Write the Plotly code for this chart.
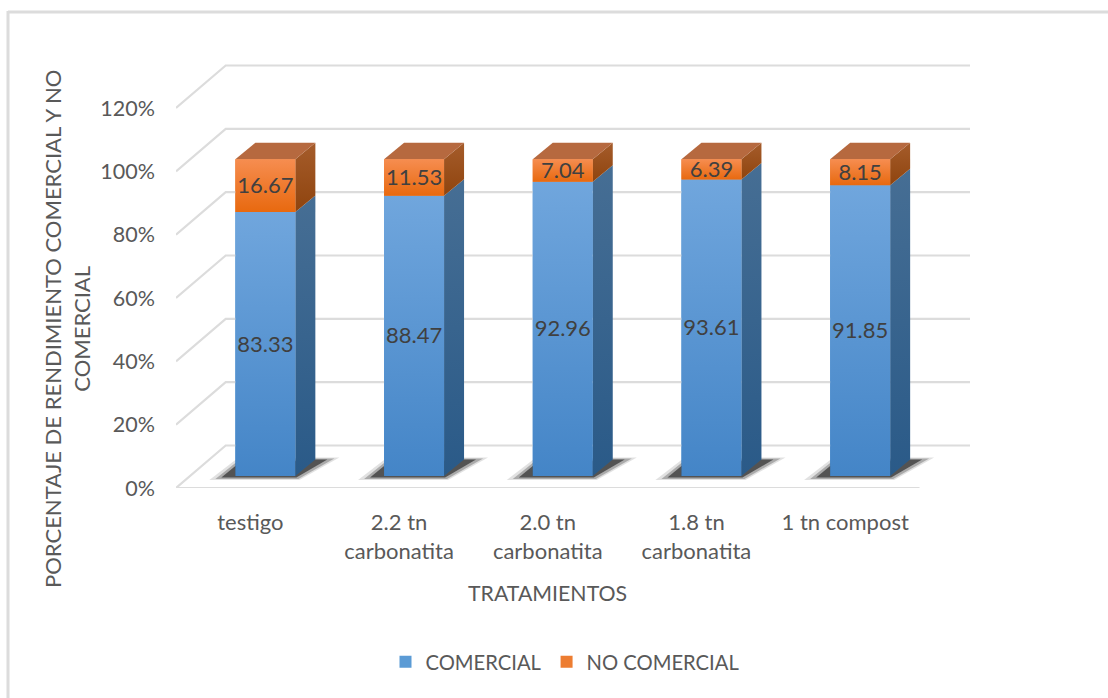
import plotly.graph_objects as go

categories = ["testigo", "2.2 tn<br>carbonatita", "2.0 tn<br>carbonatita", "1.8 tn<br>carbonatita", "1 tn compost"]
comercial = [83.33, 88.47, 92.96, 93.61, 91.85]
no_comercial = [16.67, 11.53, 7.04, 6.39, 8.15]
y_ticks = [0, 20, 40, 60, 80, 100, 120]
y_labels = ["0%", "20%", "40%", "60%", "80%", "100%", "120%"]

W, H = 1108, 698
L, R, T, B = 176, 990, 56, 488
PX_X = (919.5 - L) / 5
PX_Y = (488 - 108) / 120


def dx(px):
    return px / PX_X


def dy(px):
    return px / PX_Y


FONT = "Lato"
TXT = "#595959"
GRID = "#dcdcdc"
BACK_X, BACK_Y = dx(49.7), dy(42.5)
BAR_SHIFT = dx(15)
BAR_W = dx(60)
BAR_BASE = dy(12)
DEPTH_X, DEPTH_Y = dx(20), dy(16.5)

fig = go.Figure()
xmin, xfront = -0.5, 4.5
xmax = xmin + dx(R - L)
ymax = dy(B - T)


def poly(xs, ys, stops=None, color=None):
    kw = dict(x=xs + xs[:1], y=ys + ys[:1], mode="lines", line=dict(width=0), fill="toself",
              hoverinfo="skip", showlegend=False)
    if stops:
        kw["fillgradient"] = dict(type=stops[0], colorscale=stops[1])
        kw["fillcolor"] = stops[1][0][1]
    else:
        kw["fillcolor"] = color
    fig.add_trace(go.Scatter(**kw))


# back wall grid lines with the left diagonal
for v in y_ticks:
    fig.add_trace(go.Scatter(x=[xmin, xmin + BACK_X, dx(970 - L) + xmin], y=[v, v + BACK_Y, v + BACK_Y],
                             mode="lines", line=dict(color=GRID, width=2.2), hoverinfo="skip", showlegend=False))
fig.add_trace(go.Scatter(x=[xmin, xfront], y=[0, 0], mode="lines", line=dict(color=GRID, width=2.2),
                         hoverinfo="skip", showlegend=False))

centres = [i + BAR_SHIFT for i in range(len(categories))]

# real bars (legend + base shape)
fig.add_trace(go.Bar(x=centres, y=comercial, base=[BAR_BASE] * 5, width=BAR_W, name="COMERCIAL",
                     marker=dict(color="#5b9bd5", line=dict(width=0)), hoverinfo="skip"))
fig.add_trace(go.Bar(x=centres, y=no_comercial, base=[BAR_BASE + c for c in comercial], width=BAR_W,
                     name="NO COMERCIAL", marker=dict(color="#ed7d31", line=dict(width=0)), hoverinfo="skip"))

BLUE_F = [[0, "#4485c7"], [1, "#70a6dd"]]
BLUE_S = [[0, "#2a5a88"], [1, "#466e94"]]
ORANGE_F = [[0, "#e8690f"], [1, "#f68d50"]]
ORANGE_S = [[0, "#8f440e"], [1, "#a55c2b"]]

for i, xc in enumerate(centres):
    x0, x1 = xc - BAR_W / 2, xc + BAR_W / 2
    y0 = BAR_BASE
    y1 = y0 + comercial[i]
    y2 = y1 + no_comercial[i]
    # floor shadow: soft outer layers, then darker core
    poly([x0 - dx(26), x1 + dx(4), x1 + DEPTH_X + dx(24), x1 + DEPTH_X, x0],
         [y0 - dy(4), y0 - dy(4), y0 + DEPTH_Y + dy(2), y0 + DEPTH_Y + dy(2), y0 + dy(16)],
         color="rgba(90,90,90,0.18)")
    poly([x0 - dx(20), x1 + dx(3), x1 + DEPTH_X + dx(19), x1 + DEPTH_X, x0],
         [y0 - dy(3), y0 - dy(3), y0 + DEPTH_Y + dy(1), y0 + DEPTH_Y + dy(1), y0 + dy(13)],
         color="rgba(70,70,70,0.35)")
    poly([x0 - dx(14), x1 + dx(1), x1 + DEPTH_X + dx(12), x1 + DEPTH_X, x0],
         [y0 - dy(1.5), y0 - dy(1.5), y0 + DEPTH_Y, y0 + DEPTH_Y, y0 + dy(10)],
         color="rgba(45,45,45,0.7)")
    # side faces
    poly([x1, x1 + DEPTH_X, x1 + DEPTH_X, x1], [y0, y0 + DEPTH_Y, y1 + DEPTH_Y, y1], ("vertical", BLUE_S))
    poly([x1, x1 + DEPTH_X, x1 + DEPTH_X, x1], [y1, y1 + DEPTH_Y, y2 + DEPTH_Y, y2], ("vertical", ORANGE_S))
    # top face
    poly([x0, x1, x1 + DEPTH_X, x0 + DEPTH_X], [y2, y2, y2 + DEPTH_Y, y2 + DEPTH_Y], color="#b6693f")
    # front faces
    poly([x0, x1, x1, x0], [y0, y0, y1, y1], ("vertical", BLUE_F))
    poly([x0, x1, x1, x0], [y1, y1, y2, y2], ("vertical", ORANGE_F))

# data labels
LABEL_NUDGE = dy(2)
fig.add_trace(go.Scatter(x=centres, y=[BAR_BASE + c / 2 - LABEL_NUDGE for c in comercial], mode="text",
                         text=[f"{c:.2f}" for c in comercial], textposition="middle center",
                         textfont=dict(family=FONT, size=22, color="#404040"),
                         showlegend=False, hoverinfo="skip"))
fig.add_trace(go.Scatter(x=centres, y=[BAR_BASE + c + n / 2 - LABEL_NUDGE for c, n in zip(comercial, no_comercial)],
                         mode="text", text=[f"{n:.2f}" for n in no_comercial], textposition="middle center",
                         textfont=dict(family=FONT, size=22, color="#404040"),
                         showlegend=False, hoverinfo="skip"))


def xp(px):
    return (px - L) / (R - L)


def yp(px):
    return (B - px) / (B - T)


fig.update_layout(
    width=W, height=H, paper_bgcolor="white", plot_bgcolor="rgba(0,0,0,0)",
    margin=dict(l=L, r=W - R, t=T, b=H - B, pad=0),
    barmode="overlay", showlegend=True,
    font=dict(family=FONT, size=22, color=TXT),
    legend=dict(orientation="h", x=xp(565), xref="paper", xanchor="center", y=yp(662),
                yanchor="middle", font=dict(family=FONT, size=20.2, color=TXT), itemsizing="constant",
                bgcolor="rgba(0,0,0,0)", traceorder="normal"),
    xaxis=dict(range=[xmin, xmax], tickmode="array", tickvals=list(range(5)), ticktext=categories,
               showgrid=False, zeroline=False, showline=False, ticks="", tickfont=dict(family=FONT, size=22, color=TXT),
               ticklabelstandoff=19),
    yaxis=dict(range=[0, ymax], tickmode="array", tickvals=y_ticks, ticktext=y_labels, showgrid=False,
               zeroline=False, showline=False, ticks="", tickfont=dict(family=FONT, size=21.5, color=TXT),
               ticklabelstandoff=20),
    annotations=[
        dict(text="PORCENTAJE DE RENDIMIENTO COMERCIAL Y NO<br>COMERCIAL", xref="paper", yref="paper",
             x=xp(67), y=yp(329), textangle=-90, showarrow=False,
             font=dict(family=FONT, size=22, color=TXT), xanchor="center", yanchor="middle", align="center"),
        dict(text="TRATAMIENTOS", xref="paper", yref="paper", x=xp(547), y=yp(593), showarrow=False,
             font=dict(family=FONT, size=21.3, color=TXT), xanchor="center", yanchor="middle"),
    ],
    shapes=[
        dict(type="line", xref="paper", yref="paper", x0=xp(8), x1=xp(W), y0=yp(12), y1=yp(12),
             line=dict(color="#dcdcdc", width=3), layer="below"),
        dict(type="line", xref="paper", yref="paper", x0=xp(8), x1=xp(8), y0=yp(11), y1=yp(H),
             line=dict(color="#dcdcdc", width=3), layer="below"),
    ],
)
fig.write_html("out.html", post_script="document.body.style.margin='0';", config={"displayModeBar": False})
